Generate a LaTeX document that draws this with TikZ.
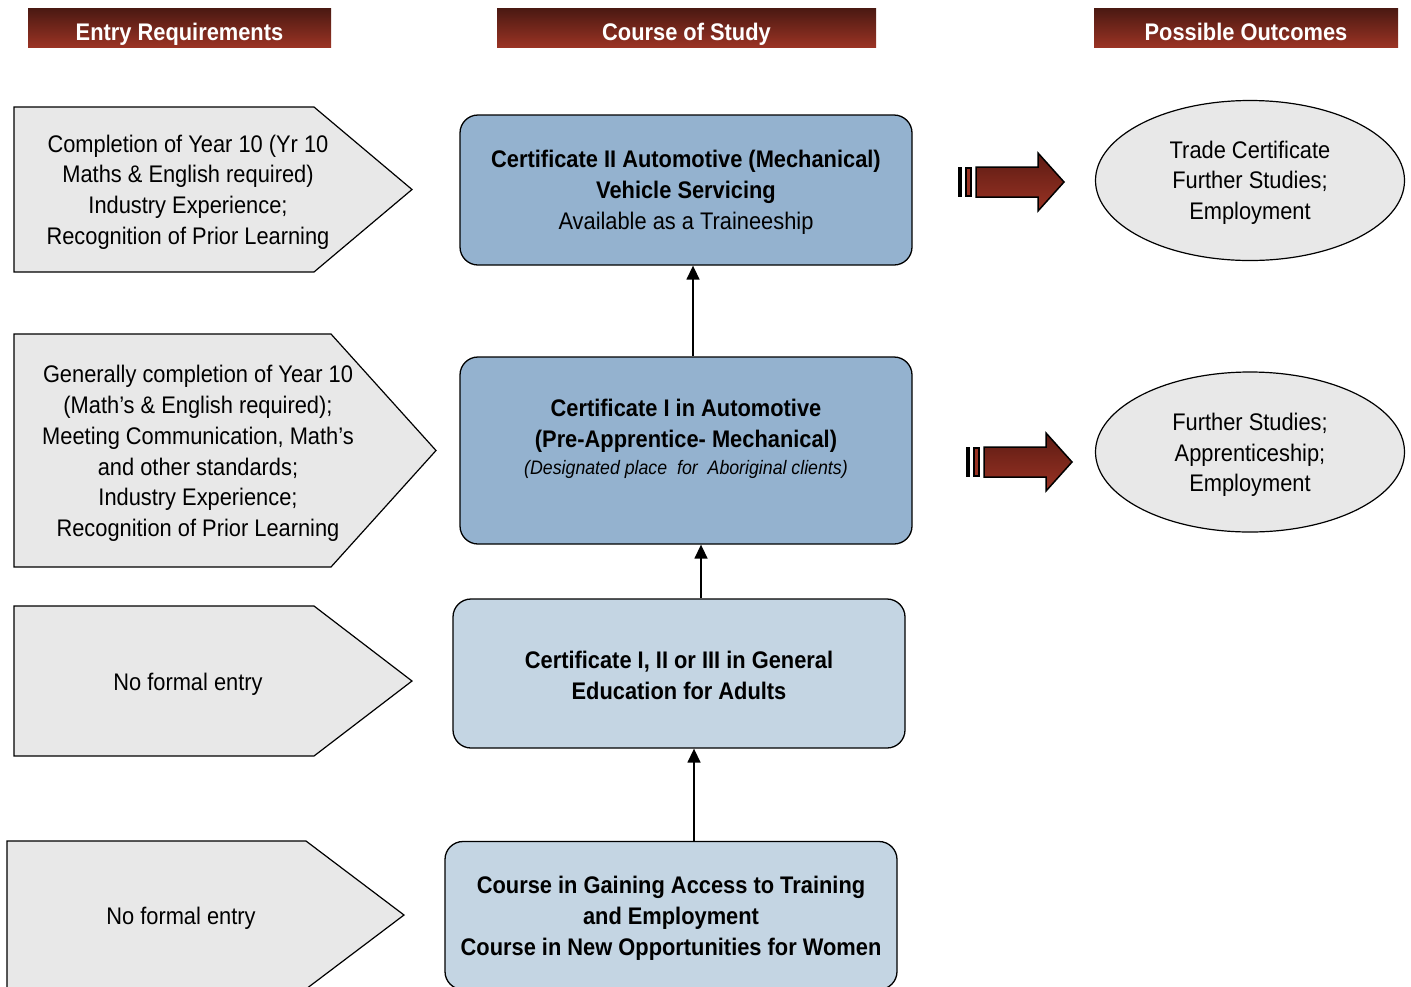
\documentclass[tikz,border=0pt]{standalone}
\usepackage{fontspec}
\setmainfont{Liberation Sans}[FakeStretch=0.91]
\usetikzlibrary{arrows.meta,calc,shapes.geometric}
\definecolor{hdrtop}{HTML}{4A1912}
\definecolor{hdrbot}{HTML}{9A3324}
\definecolor{arrtop}{HTML}{5C1B13}
\definecolor{boxdark}{HTML}{94B2CF}
\definecolor{boxlight}{HTML}{C4D5E3}
\definecolor{grayfill}{HTML}{E8E8E8}
\tikzset{
  hdrbar/.style={top color=hdrtop,bottom color=hdrbot,draw=none},
  hdrtext/.style={text=white,font=\fontsize{24}{28}\selectfont\bfseries,anchor=base},
  pent/.style={draw=black,line width=1.2pt,fill=grayfill,line join=miter},
  penttext/.style={align=center,font=\fontsize{24}{30.8}\selectfont,inner sep=0pt},
  course/.style={draw=black,line width=1.3pt,rounded corners=18pt,minimum width=452pt,inner sep=0pt},
  coursetext/.style={align=center,font=\fontsize{24}{31}\selectfont,inner sep=0pt},
  outc/.style={ellipse,draw=black,line width=1.2pt,fill=grayfill,minimum width=309pt,minimum height=160pt,inner sep=0pt},
  outctext/.style={align=center,font=\fontsize{24}{30.5}\selectfont,inner sep=0pt},
  uparr/.style={line width=1.5pt,-{Triangle[length=14pt,width=13pt]}},
  blockarr/.style={draw=black,line width=1.5pt,top color=arrtop,bottom color=hdrbot,line join=miter}
}
\begin{document}
\begin{tikzpicture}[x=1pt,y=-1pt]
\useasboundingbox (0,0) rectangle (1411,986);
\clip (0,0) rectangle (1411,986);
% headers
\shade[hdrbar] (28,8) rectangle (331,47);
\node[hdrtext] (h1) at (179.5,40) {Entry Requirements};
\shade[hdrbar] (497,8) rectangle (876,47);
\node[hdrtext] (h2) at (686.5,40) {Course of Study};
\shade[hdrbar] (1094,8) rectangle (1398,47);
\node[hdrtext] (h3) at (1246,40) {Possible Outcomes};
% entry pentagons
\draw[pent] (14,107) -- (314,107) -- (412,189.5) -- (314,272) -- (14,272) -- cycle;
\node[penttext] (e1) at (188,192) {Completion of Year 10 (Yr 10\\Maths \& English required)\\Industry Experience;\\Recognition of Prior Learning};
\draw[pent] (14,334) -- (331,334) -- (436,450.5) -- (331,567) -- (14,567) -- cycle;
\node[penttext] (e2) at (198,453.5) {Generally completion of Year 10\\(Math’s \& English required);\\Meeting Communication, Math’s\\and other standards;\\Industry Experience;\\Recognition of Prior Learning};
\draw[pent] (14,606) -- (314,606) -- (412,681) -- (314,756) -- (14,756) -- cycle;
\node[penttext] (e3) at (188,684) {No formal entry};
\draw[pent] (7,841) -- (306,841) -- (404,915) -- (306,989) -- (7,989) -- cycle;
\node[penttext] (e4) at (181,918) {No formal entry};
% course boxes
\node[course,fill=boxdark,minimum height=150pt] (c1) at (686,190) {};
\node[coursetext] (c1t) at ([yshift=-2pt]c1.center) {\textbf{Certificate II Automotive (Mechanical)}\\\textbf{Vehicle Servicing}\\Available as a Traineeship};
\node[course,fill=boxdark,minimum height=187pt] (c2) at (686,450.5) {};
\node[coursetext] (c2t) at ([yshift=11.5pt]c2.center) {\textbf{Certificate I in Automotive}\\\textbf{(Pre-Apprentice- Mechanical)}\\[-4pt]{\fontsize{19.5}{24}\selectfont\itshape (Designated place\ \ for\ \ Aboriginal clients)}};
\node[course,fill=boxlight,minimum height=149pt] (c3) at (679,673.5) {};
\node[coursetext] (c3t) at ([yshift=-1.5pt]c3.center) {\textbf{Certificate I, II or III in General}\\\textbf{Education for Adults}};
\node[course,fill=boxlight,minimum height=148pt] (c4) at (671,915.5) {};
\node[coursetext] (c4t) at ([yshift=-3pt]c4.center) {\textbf{Course in Gaining Access to Training}\\\textbf{and Employment}\\\textbf{Course in New Opportunities for Women}};
% connectors
\draw[uparr] ([xshift=7pt]c2.north) -- ([xshift=7pt]c2.north |- c1.south);
\draw[uparr] ([xshift=22pt]c3.north) -- ([xshift=22pt]c3.north |- c2.south);
\draw[uparr] ([xshift=23pt]c4.north) -- ([xshift=23pt]c4.north |- c3.south);
% outcomes
\node[outc] (o1) at (1250,180.5) {};
\node[outctext] (o1t) at ([yshift=-2pt]o1.center) {Trade Certificate\\Further Studies;\\Employment};
\node[outc] (o2) at (1250,452) {};
\node[outctext] (o2t) at ([yshift=-3pt]o2.center) {Further Studies;\\Apprenticeship;\\Employment};
% block arrows
\fill[black] (958,167) rectangle (962,197);
\draw[line width=1.5pt,fill=hdrbot] (966,168) rectangle (971,196);
\draw[blockarr] (976,167) -- (1038,167) -- (1038,153) -- (1064,182) -- (1038,211) -- (1038,197) -- (976,197) -- cycle;
\fill[black] (966,447) rectangle (970,477);
\draw[line width=1.5pt,fill=hdrbot] (974,448) rectangle (979,476);
\draw[blockarr] (984,447) -- (1046,447) -- (1046,433) -- (1072,462) -- (1046,491) -- (1046,477) -- (984,477) -- cycle;
\end{tikzpicture}
\end{document}
